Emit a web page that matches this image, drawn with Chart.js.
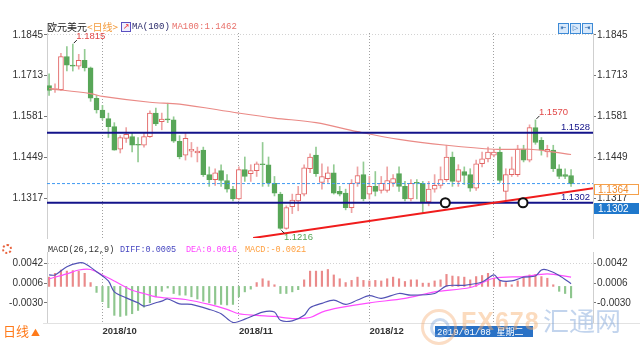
<!DOCTYPE html>
<html>
<head>
<meta charset="utf-8">
<script src="https://cdn.jsdelivr.net/npm/chart.js@4.4.1/dist/chart.umd.min.js"></script>
<style>
  html, body { margin: 0; padding: 0; background: #fff; }
  body { width: 640px; height: 360px; position: relative; overflow: hidden; }
  .pane { position: absolute; left: 0; width: 640px; }
  #mainPane { top: 0; height: 245px; }
  #macdPane { top: 245px; height: 100px; }
  .t { position: absolute; white-space: nowrap; font: 9px/11px 'Liberation Mono', monospace; }
  .m { font-size: 8.5px; }
  .cn { position: absolute; white-space: nowrap; font: 10px/12px 'Noto Sans CJK SC', sans-serif; }
  .ico { position: absolute; top: 23px; width: 9px; height: 9px; border: 1px solid #3d8ad6;
         background: #d8e9fb; color: #1f5fa8; font: 7px/9px 'DejaVu Sans', sans-serif; text-align: center; }
  .hl { position: absolute; height: 1px; background: #e2e2e2; }
</style>
</head>
<body>
<div class="pane" id="mainPane"><canvas id="mainChart"></canvas></div>
<div class="pane" id="macdPane"><canvas id="macdChart"></canvas></div>

<div class="hl" style="left:43px;width:597px;top:323px"></div>

<div class="cn" style="left:47px;top:21px;color:#222">欧元美元<span style="color:#f39a3a">&lt;日线&gt;</span></div>
<div style="position:absolute;left:121px;top:22px;width:8px;height:8px;border:1px solid #5a4fc0;background:#eef;color:#e33;font:8px/8px 'DejaVu Sans';text-align:center">↗</div>
<div class="t" style="left:132px;top:22px;color:#2a2a6a">MA(100)</div>
<div class="t" style="left:172px;top:22px;color:#e8706a">MA100:1.1462</div>

<div class="ico" style="left:558px">⇤</div>
<div class="ico" style="left:570px">▷</div>
<div class="ico" style="left:582px">⇥</div>

<div class="t m" style="left:48px;top:245px;color:#333">MACD(26,12,9)</div>
<div class="t m" style="left:120px;top:245px;color:#4646c0">DIFF:0.0005</div>
<div class="t m" style="left:186px;top:245px;color:#ff44ff">DEA:0.0016</div>
<div class="t m" style="left:245px;top:245px;color:#ffa040">MACD:-0.0021</div>

<div style="position:absolute;left:2px;top:244px;width:6px;height:6px;border:2px dotted #e8603a;border-radius:50%"></div>
<div class="cn" style="left:3px;top:323px;font-size:13px;line-height:15px;color:#ff7a1a">日线<span style="font-size:9px"> ▲</span></div>

<div class="t" style="left:435px;top:326px;width:98px;height:11px;background:#2a72c6;color:#fff;font-size:9px;line-height:11px;padding-left:2px;box-sizing:border-box">2019/01/08 <span style="font-family:'Noto Sans CJK SC'">星期二</span></div>

<div style="position:absolute;left:421px;top:309px;width:30px;height:30px;border:3px solid rgba(245,170,110,.4);border-radius:50%"></div>
<div style="position:absolute;left:430px;top:318px;width:14px;height:14px;border:3px solid rgba(120,160,215,.4);border-radius:50%"></div>
<div style="position:absolute;left:461px;top:306px;font:bold 25px/30px 'Liberation Sans',sans-serif;color:rgba(246,176,110,.45);letter-spacing:1px">FX678</div>
<div class="cn" style="left:543px;top:305px;font-size:26px;line-height:30px;color:rgba(120,160,215,.45)">汇通网</div>

<script>
// ---------- data ----------
const monthIdx = [9, 32, 54, 75];
const monthLabels = ['2018/10', '2018/11', '2018/12', ''];
const priceTicks = [1.1317, 1.1449, 1.1581, 1.1713, 1.1845];
const macdTicks = [-0.0030, 0.0006, 0.0042];

const opens = [
  1.1681, 1.1668, 1.1668, 1.1775, 1.1747, 1.1744, 1.1763, 1.1738, 1.1640, 1.1602,
  1.1574, 1.1548, 1.1475, 1.1510, 1.1516, 1.1489, 1.1488, 1.1516, 1.1592, 1.1564,
  1.1573, 1.1570, 1.1501, 1.1456, 1.1469, 1.1463, 1.1472, 1.1393, 1.1377, 1.1406,
  1.1374, 1.1346, 1.1314, 1.1409, 1.1396, 1.1406, 1.1428, 1.1425, 1.1365, 1.1330,
  1.1219, 1.1289, 1.1308, 1.1330, 1.1412, 1.1456, 1.1368, 1.1380, 1.1399, 1.1339,
  1.1333, 1.1286, 1.1365, 1.1393, 1.1330, 1.1355, 1.1342, 1.1342, 1.1365, 1.1396,
  1.1355, 1.1314, 1.1368, 1.1365, 1.1305, 1.1346, 1.1358, 1.1377, 1.1450, 1.1371,
  1.1403, 1.1393, 1.1349, 1.1428, 1.1444, 1.1456, 1.1466, 1.1339, 1.1393, 1.1393,
  1.1475, 1.1440, 1.1545, 1.1504, 1.1466, 1.1472, 1.1412, 1.1393, 1.1390
];
const highs = [
  1.1719, 1.1687, 1.1785, 1.1807, 1.1815, 1.1782, 1.1798, 1.1741, 1.1649, 1.1617,
  1.1592, 1.1561, 1.1519, 1.1545, 1.1529, 1.1513, 1.1529, 1.1599, 1.1608, 1.1592,
  1.1624, 1.1580, 1.1519, 1.1526, 1.1497, 1.1482, 1.1482, 1.1418, 1.1412, 1.1425,
  1.1393, 1.1355, 1.1418, 1.1450, 1.1425, 1.1434, 1.1497, 1.1450, 1.1387, 1.1336,
  1.1292, 1.1330, 1.1355, 1.1425, 1.1460, 1.1482, 1.1428, 1.1418, 1.1425, 1.1355,
  1.1346, 1.1377, 1.1418, 1.1434, 1.1387, 1.1403, 1.1387, 1.1418, 1.1393, 1.1418,
  1.1371, 1.1377, 1.1377, 1.1371, 1.1371, 1.1393, 1.1418, 1.1488, 1.1466, 1.1425,
  1.1418, 1.1412, 1.1440, 1.1466, 1.1482, 1.1475, 1.1482, 1.1412, 1.1450, 1.1488,
  1.1488, 1.1554, 1.1570, 1.1513, 1.1488, 1.1488, 1.1425, 1.1412, 1.1409
];
const lows = [
  1.1649, 1.1659, 1.1665, 1.1728, 1.1728, 1.1734, 1.1728, 1.1630, 1.1592, 1.1570,
  1.1513, 1.1472, 1.1463, 1.1497, 1.1466, 1.1434, 1.1482, 1.1513, 1.1551, 1.1538,
  1.1561, 1.1497, 1.1444, 1.1440, 1.1450, 1.1434, 1.1387, 1.1355, 1.1358, 1.1355,
  1.1336, 1.1308, 1.1311, 1.1371, 1.1371, 1.1387, 1.1355, 1.1355, 1.1324, 1.1216,
  1.1216, 1.1267, 1.1276, 1.1324, 1.1399, 1.1387, 1.1346, 1.1368, 1.1330, 1.1324,
  1.1279, 1.1270, 1.1355, 1.1308, 1.1314, 1.1324, 1.1333, 1.1336, 1.1355, 1.1339,
  1.1308, 1.1308, 1.1314, 1.1270, 1.1292, 1.1336, 1.1349, 1.1371, 1.1355, 1.1355,
  1.1361, 1.1339, 1.1342, 1.1418, 1.1434, 1.1450, 1.1368, 1.1308, 1.1387, 1.1387,
  1.1434, 1.1434, 1.1491, 1.1456, 1.1450, 1.1403, 1.1380, 1.1380, 1.1355
];
const closes = [
  1.1665, 1.1671, 1.1775, 1.1747, 1.1744, 1.1763, 1.1738, 1.1640, 1.1602, 1.1576,
  1.1548, 1.1472, 1.1513, 1.1523, 1.1488, 1.1488, 1.1516, 1.1592, 1.1557, 1.1573,
  1.1570, 1.1501, 1.1450, 1.1510, 1.1475, 1.1469, 1.1393, 1.1377, 1.1399, 1.1374,
  1.1346, 1.1314, 1.1409, 1.1387, 1.1406, 1.1428, 1.1425, 1.1365, 1.1333, 1.1219,
  1.1286, 1.1311, 1.1330, 1.1415, 1.1450, 1.1396, 1.1387, 1.1399, 1.1333, 1.1330,
  1.1286, 1.1365, 1.1390, 1.1314, 1.1355, 1.1339, 1.1365, 1.1374, 1.1380, 1.1355,
  1.1314, 1.1365, 1.1365, 1.1305, 1.1346, 1.1358, 1.1377, 1.1450, 1.1371, 1.1409,
  1.1390, 1.1349, 1.1428, 1.1444, 1.1466, 1.1466, 1.1374, 1.1393, 1.1412, 1.1475,
  1.1440, 1.1545, 1.1497, 1.1472, 1.1475, 1.1412, 1.1387, 1.1387, 1.1364
];

// MA(100) read at a handful of candles
const maIdx = [0, 7, 9, 17, 22, 32, 38, 45, 52, 59, 67, 75, 81, 84, 88];
const maVal = [1.1671, 1.1655, 1.1646, 1.1627, 1.1621, 1.1592, 1.1576, 1.1561, 1.1532, 1.1507,
               1.1488, 1.1475, 1.1475, 1.1469, 1.1458];

const levels = [1.1528, 1.1302];          // navy horizontal lines
const trendIdx = [34.4, 91.7];            // red support line end points
const trendVal = [1.1188, 1.1349];
const touchIdx = [66.8, 79.9];            // circled touches
const touchVal = [1.1302, 1.1302];
const hiMarks = [4, 82];
const loMarks = [39];

const hist = [
  0.0017, 0.0024, 0.0030, 0.0028, 0.0029, 0.0028, 0.0024, 0.0007, -0.0011, -0.0028,
  -0.0039, -0.0053, -0.0055, -0.0053, -0.0050, -0.0044, -0.0038, -0.0030, -0.0019, -0.0009,
  -0.0003, -0.0013, -0.0016, -0.0016, -0.0019, -0.0023, -0.0027, -0.0030, -0.0033, -0.0033,
  -0.0034, -0.0033, -0.0019, -0.0010, -0.0005, 0.0007, 0.0014, 0.0010, 0.0003, -0.0013,
  -0.0013, -0.0010, -0.0006, 0.0012, 0.0028, 0.0028, 0.0028, 0.0031, 0.0021, 0.0014,
  0.0007, 0.0011, 0.0017, 0.0011, 0.0010, 0.0011, 0.0010, 0.0014, 0.0017, 0.0014,
  0.0009, 0.0012, 0.0012, 0.0006, 0.0006, 0.0010, 0.0012, 0.0022, 0.0019, 0.0018,
  0.0017, 0.0012, 0.0018, 0.0020, 0.0024, 0.0015, 0.0010, 0.0007, 0.0003, 0.0010,
  0.0016, 0.0021, 0.0022, 0.0018, 0.0015, 0.0003, -0.0009, -0.0013, -0.0021
];
const diffIdx = [0, 1, 3, 5, 6, 8, 10, 11, 13, 15, 16, 18, 19, 20, 22, 24, 27, 29, 31, 33,
                 36, 38, 39, 41, 43, 44, 46, 48, 50, 52, 54, 56, 59, 61, 65, 67, 70, 73, 75, 76,
                 78, 80, 82, 83, 84, 86, 88];
const diffVal = [0.0021, 0.0021, 0.0036, 0.0043, 0.0042, 0.0027, 0.0010, -0.0010, -0.0021, -0.0030,
                 -0.0036, -0.0030, -0.0027, -0.0023, -0.0032, -0.0033, -0.0042, -0.0050, -0.0066, -0.0060,
                 -0.0047, -0.0047, -0.0062, -0.0063, -0.0053, -0.0039, -0.0031, -0.0025, -0.0033, -0.0025,
                 -0.0017, -0.0022, -0.0013, -0.0016, -0.0013, 0.0001, 0.0002, 0.0008, 0.0021, 0.0011,
                 0.0010, 0.0017, 0.0019, 0.0030, 0.0030, 0.0020, 0.0005];
const deaIdx = [0, 3, 5, 7, 9, 11, 14, 16, 18, 21, 23, 27, 30, 32, 35, 38, 41, 44, 46, 49,
                54, 60, 65, 71, 75, 80, 84, 88];
const deaVal = [0.0014, 0.0023, 0.0030, 0.0031, 0.0021, 0.0010, -0.0007, -0.0013, -0.0019, -0.0022,
                -0.0024, -0.0033, -0.0042, -0.0050, -0.0053, -0.0055, -0.0059, -0.0057, -0.0047, -0.0039,
                -0.0030, -0.0022, -0.0010, -0.0002, 0.0015, 0.0018, 0.0023, 0.0017];

// ---------- styling ----------
const NAVY = '#13138a', UP = '#e26464', UP_WICK = '#eea4a4', DN = '#58a658', DN_WICK = '#93cb93';
const X_MIN = -0.35, X_MAX = 91.7;
const pts = (xs, ys) => xs.map((x, k) => ({ x, y: ys[k] }));
const isUp = (i) => closes[i] >= opens[i];
const FONT = { family: 'Liberation Sans', size: 10 };

const xAxis = (extra) => Object.assign({
  type: 'linear', min: X_MIN, max: X_MAX, offset: false,
  afterBuildTicks: (s) => { s.ticks = monthIdx.map((v) => ({ value: v })); },
  grid: { color: '#a0a0a0', drawTicks: false, offset: false },
  border: { display: false, dash: [1, 2] },
}, extra);

const yAxis = (pos, min, max, ticks, fmt, topTick) => ({
  position: pos, min, max,
  afterBuildTicks: (s) => { s.ticks = ticks.map((v) => ({ value: v })); },
  afterFit: (s) => { s.width = 47; },
  ticks: { callback: fmt, color: '#333', font: FONT, padding: 1 },
  grid: {
    drawOnChartArea: pos === 'left', tickLength: 3, tickColor: '#777',
    color: (c) => (c.tick && c.tick.value === topTick ? '#d2d2d2' : 'rgba(0,0,0,0)'),
  },
  border: { color: '#cfcfcf', dash: [1, 2] },
});

const base = {
  responsive: true, maintainAspectRatio: false, animation: false, events: [],
  plugins: { legend: { display: false }, tooltip: { enabled: false } },
};

// ---------- text marks on the price pane ----------
const marks = {
  id: 'marks',
  afterDatasetsDraw(chart) {
    const { ctx, chartArea: a, scales: { x, y } } = chart;
    ctx.save();
    ctx.font = '9.5px "Liberation Sans"';
    ctx.fillStyle = NAVY; ctx.textAlign = 'right'; ctx.textBaseline = 'alphabetic';
    levels.forEach((v) => ctx.fillText(v.toFixed(4), a.right - 3, y.getPixelForValue(v) - 3));
    const tag = (i, v, dy, color) => {
      const px = x.getPixelForValue(i), py = y.getPixelForValue(v), s = dy < 0 ? -1 : 1;
      ctx.strokeStyle = '#222'; ctx.lineWidth = 1;
      ctx.beginPath(); ctx.moveTo(px + 1, py + s); ctx.lineTo(px + 4, py + 4 * s); ctx.stroke();
      ctx.fillStyle = color; ctx.textAlign = 'center'; ctx.textBaseline = 'middle';
      ctx.fillText(v.toFixed(4), px + 18, py + dy);
    };
    hiMarks.forEach((i) => tag(i, highs[i], -8, '#e24848'));
    loMarks.forEach((i) => tag(i, lows[i], 8, '#58a658'));
    ctx.restore();
  },
  afterDraw(chart) {
    const { ctx, chartArea: a, scales: { y } } = chart;
    const box = (v, fill, stroke, color) => {
      const py = Math.round(y.getPixelForValue(v));
      ctx.fillStyle = fill; ctx.fillRect(a.right + 1, py, 45, 11);
      if (stroke) { ctx.strokeStyle = stroke; ctx.strokeRect(a.right + 1.5, py + 0.5, 44, 10); }
      ctx.fillStyle = color; ctx.font = '10px "Liberation Sans"';
      ctx.textAlign = 'left'; ctx.textBaseline = 'middle';
      ctx.fillText(v.toFixed(4), a.right + 5, py + 6);
    };
    ctx.save();
    box(closes[closes.length - 1], '#fff', '#f5a04a', '#f08a2a');
    box(levels[1], '#1f78cc', null, '#fff');
    ctx.restore();
  },
};

// ---------- price pane ----------
new Chart(document.getElementById('mainChart'), {
  type: 'bar',
  data: {
    datasets: [
      { label: 'wick', data: lows.map((l, i) => ({ x: i, y: [l, highs[i]] })),
        grouped: false, barThickness: 1, order: 6,
        backgroundColor: (c) => (isUp(c.dataIndex) ? UP_WICK : DN_WICK) },
      { label: 'body', data: opens.map((o, i) => ({ x: i, y: [o, closes[i]] })),
        grouped: false, barThickness: 5, borderWidth: 1, borderSkipped: false, minBarLength: 1, order: 5,
        backgroundColor: (c) => (isUp(c.dataIndex) ? '#fff' : DN),
        borderColor: (c) => (isUp(c.dataIndex) ? UP : DN) },
      { type: 'line', label: 'MA100', data: pts(maIdx, maVal), borderColor: '#ea8a86',
        borderWidth: 1.2, pointRadius: 0, tension: 0.35, order: 4 },
      { type: 'line', label: 'last', data: pts([X_MIN, X_MAX], [closes[88], closes[88]]),
        borderColor: '#3d98f2', borderWidth: 1, borderDash: [3, 2], pointRadius: 0, order: 3 },
      ...levels.map((v) => ({ type: 'line', label: 'lvl', data: pts([X_MIN, X_MAX], [v, v]),
        borderColor: NAVY, borderWidth: 2, pointRadius: 0, order: 2 })),
      { type: 'line', label: 'trend', data: pts(trendIdx, trendVal), borderColor: '#f01c1c',
        borderWidth: 2, pointRadius: 0, order: 1 },
      { type: 'line', label: 'touch', data: pts(touchIdx, touchVal), showLine: false,
        pointRadius: 4.5, pointBorderWidth: 2, pointBorderColor: '#111', pointBackgroundColor: '#fff', order: 0 },
    ],
  },
  options: Object.assign({}, base, {
    layout: { padding: { top: 33, bottom: 2, left: 0, right: 0 } },
    scales: {
      x: xAxis({ ticks: { display: false }, afterFit: (s) => { s.height = 0; } }),
      y: yAxis('left', 1.1188, 1.1851, priceTicks, (v) => v.toFixed(4), priceTicks[4]),
      y2: yAxis('right', 1.1188, 1.1851, priceTicks, (v) => v.toFixed(4), priceTicks[4]),
    },
  }),
  plugins: [marks],
});

// ---------- MACD pane ----------
new Chart(document.getElementById('macdChart'), {
  type: 'bar',
  data: {
    datasets: [
      { label: 'MACD', data: hist.map((v, i) => ({ x: i, y: v })), grouped: false, barThickness: 1.5, order: 3,
        backgroundColor: (c) => (hist[c.dataIndex] >= 0 ? '#ea8a8a' : '#8ec68e') },
      { type: 'line', label: 'DEA', data: pts(deaIdx, deaVal), borderColor: '#ff4dff',
        borderWidth: 1.2, pointRadius: 0, tension: 0.3, order: 2 },
      { type: 'line', label: 'DIFF', data: pts(diffIdx, diffVal), borderColor: '#5252b5',
        borderWidth: 1.2, pointRadius: 0, tension: 0.3, order: 1 },
    ],
  },
  options: Object.assign({}, base, {
    layout: { padding: { top: 2, bottom: 0, left: 0, right: 0 } },
    scales: {
      x: xAxis({
        afterFit: (s) => { s.height = 22; },
        ticks: { align: 'start', maxRotation: 0, autoSkip: false, padding: 3, color: '#333',
                 font: { family: 'Liberation Sans', size: 9.5, weight: 'bold' },
                 callback: (v) => monthLabels[monthIdx.indexOf(v)] },
      }),
      y: yAxis('left', -0.0067, 0.0063, macdTicks, (v) => v.toFixed(4), macdTicks[2]),
      y2: yAxis('right', -0.0067, 0.0063, macdTicks, (v) => v.toFixed(4), macdTicks[2]),
    },
  }),
});
</script>
</body>
</html>
